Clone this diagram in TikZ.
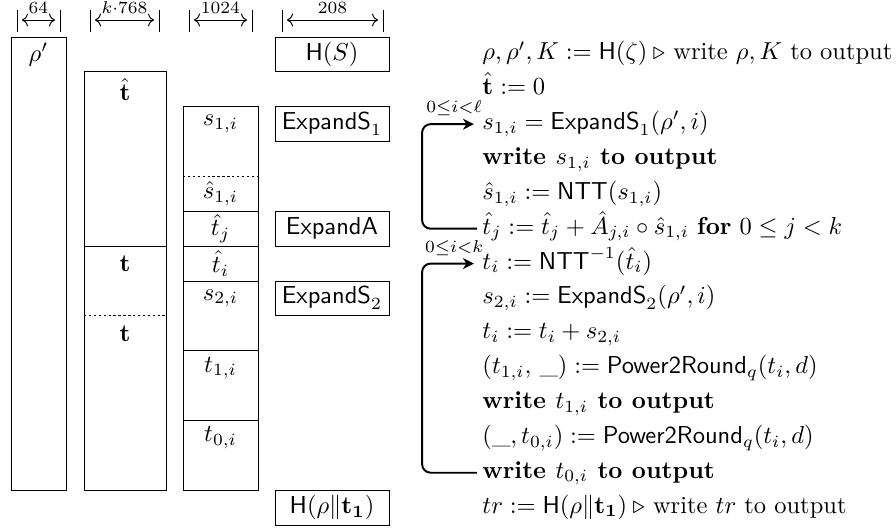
\documentclass[tikz,border=0pt]{standalone}
\usepackage{amsmath,amssymb}
\usetikzlibrary{arrows.meta}
\begin{document}
\begin{tikzpicture}[x=0.40813pt,y=-0.5cm,
  every node/.style={inner sep=0pt},
  fbox/.style={draw, minimum width=46.53pt, minimum height=0.5cm, inner sep=0pt},
  codeline/.style={anchor=west, inner sep=0pt, text height=7pt, text depth=2.5pt},
  loopline/.style={thick, rounded corners=3.5pt, -{Stealth[length=4.5pt,width=4.5pt]}},
  dimarrow/.style={<->, >={Computer Modern Rightarrow}, shorten <=2pt, shorten >=2pt},
  dimlabel/.style={anchor=base, yshift=2.6pt},
  looplabel/.style={pos=0.75, anchor=base, yshift=4.6pt, xshift=2.5pt},
  sepline/.style={dash pattern=on 1pt off 1pt}
]
\useasboundingbox (0,-1.0615) rectangle (896,14.1148);

% dimension header
\foreach \xa/\xb in {17/60, 90/159, 189/252, 282/383}{
  \draw (\xa,-0.775) -- (\xa,-0.143);
  \draw (\xb,-0.775) -- (\xb,-0.143);
}
\draw[dimarrow] (17,-0.488) -- (60,-0.488) node[midway, dimlabel] (d1) {$\scriptstyle 64$};
\draw[dimarrow] (90,-0.488) -- (159,-0.488) node[midway, dimlabel] (d2) {$\scriptstyle k\cdot 768$};
\draw[dimarrow] (189,-0.488) -- (252,-0.488) node[midway, dimlabel] (d3) {$\scriptstyle 1024$};
\draw[dimarrow] (282,-0.488) -- (383,-0.488) node[midway, dimlabel] (d4) {$\scriptstyle 208$};

% column A
\draw (11,0) rectangle (66,13);
\node (rhop) at (38.5,0.5) {$\rho'$};

% column B
\draw (84,1) rectangle (166,13);
\draw (84,6) -- (166,6);
\draw[sepline] (84,8) -- (166,8);
\node (that) at (125,1.5) {$\hat{\mathbf{t}}$};
\node (tA) at (125,6.5) {$\mathbf{t}$};
\node (tB) at (125,8.5) {$\mathbf{t}$};

% column C
\draw (183,2) rectangle (258,13);
\draw[sepline] (183,4) -- (258,4);
\foreach \y in {5,6,7,9,11} \draw (183,\y) -- (258,\y);
\node (cs1) at (220.5,2.5) {$s_{1,i}$};
\node (cs1h) at (220.5,4.5) {$\hat{s}_{1,i}$};
\node (ctj) at (220.5,5.5) {$\hat{t}_j$};
\node (cti) at (220.5,6.5) {$\hat{t}_i$};
\node (cs2) at (220.5,7.5) {$s_{2,i}$};
\node (ct1) at (220.5,9.5) {$t_{1,i}$};
\node (ct0) at (220.5,11.5) {$t_{0,i}$};

% column D boxes
\node[fbox] (hS) at (332,0.5) {$\mathsf{H}(S)$};
\node[fbox] (es1) at (332,2.5) {$\mathsf{ExpandS}_1$};
\node[fbox] (ea) at (332,5.5) {$\mathsf{ExpandA}$};
\node[fbox] (es2) at (332,7.5) {$\mathsf{ExpandS}_2$};
\node[fbox] (htr) at (332,13.5) {$\mathsf{H}(\rho\|\mathbf{t_1})$};

% algorithm lines
\node[codeline] (l0) at (482,0.5) {$\rho, \rho', K := \mathsf{H}(\zeta)\:\triangleright$ write $\rho, K$ to output};
\node[codeline] (l1) at (482,1.5) {$\hat{\mathbf{t}} := 0$};
\node[codeline] (l2) at (482,2.5) {$s_{1,i} = \mathsf{ExpandS}_1(\rho', i)$};
\node[codeline] (l3) at (482,3.5) {\textbf{write $s_{1,i}$ to output}};
\node[codeline] (l4) at (482,4.5) {$\hat{s}_{1,i} := \mathsf{NTT}(s_{1,i})$};
\node[codeline] (l5) at (482,5.5) {$\hat{t}_j := \hat{t}_j + \hat{A}_{j,i} \circ \hat{s}_{1,i}$ \textbf{for} $0 \leq j < k$};
\node[codeline] (l6) at (482,6.5) {$t_i := \mathsf{NTT}^{-1}(\hat{t}_i)$};
\node[codeline] (l7) at (482,7.5) {$s_{2,i} := \mathsf{ExpandS}_2(\rho', i)$};
\node[codeline] (l8) at (482,8.5) {$t_i := t_i + s_{2,i}$};
\node[codeline] (l9) at (482,9.5) {$(t_{1,i},\, \_) := \mathsf{Power2Round}_q(t_i, d)$};
\node[codeline] (l10) at (482,10.5) {\textbf{write $t_{1,i}$ to output}};
\node[codeline] (l11) at (482,11.5) {$(\_, t_{0,i}) := \mathsf{Power2Round}_q(t_i, d)$};
\node[codeline] (l12) at (482,12.5) {\textbf{write $t_{0,i}$ to output}};
\node[codeline] (l13) at (482,13.5) {$tr := \mathsf{H}(\rho\|\mathbf{t_1})\:\triangleright$ write $tr$ to output};

% loops
\draw[loopline] ([xshift=-2pt]l5.west) -- ++(-55,0) |- ([xshift=-3.3pt]l2.west)
  node[looplabel] (lab1) {$\scriptstyle 0\leq i<\ell$};
\draw[loopline] ([xshift=-2pt]l12.west) -- ++(-55,0) |- ([xshift=-3.3pt]l6.west)
  node[looplabel] (lab2) {$\scriptstyle 0\leq i<k$};
\end{tikzpicture}
\end{document}
